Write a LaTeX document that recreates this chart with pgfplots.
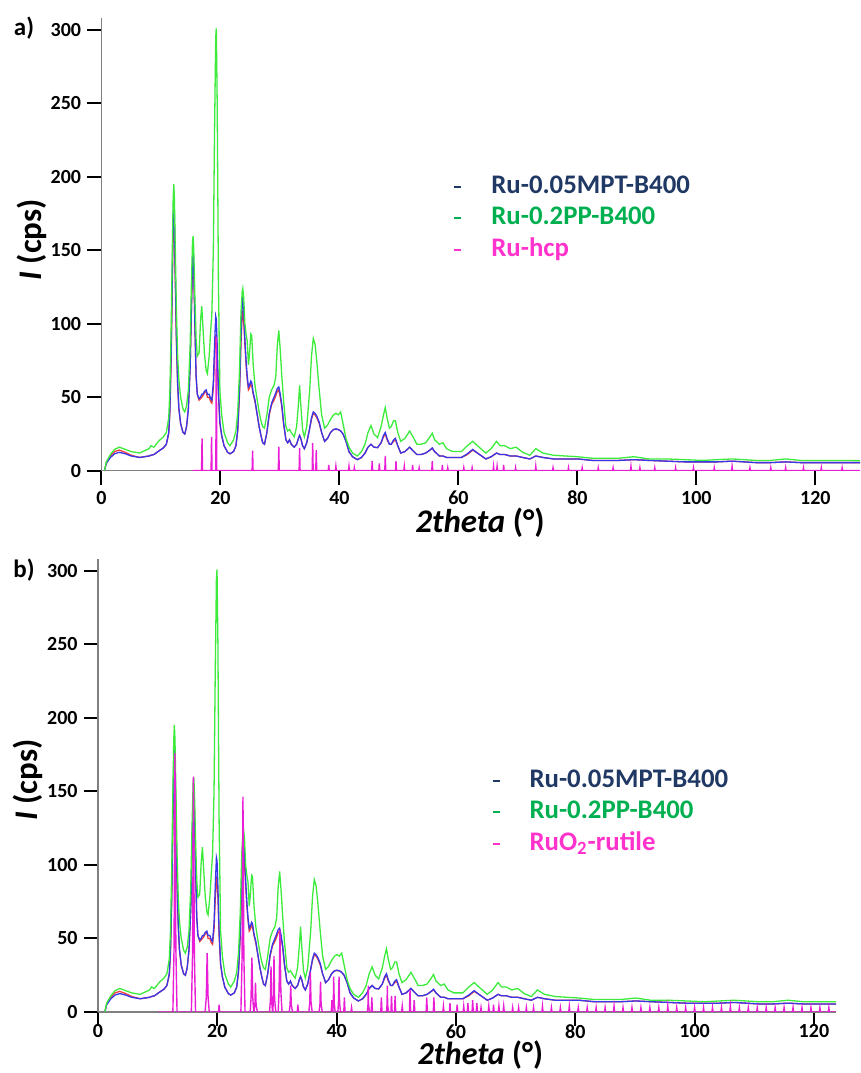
\documentclass[border=0pt]{standalone}
\usepackage{fontspec}
\setmainfont{Carlito}
\usepackage{pgfplots}
\usepackage{pgfplotstable}
\pgfplotsset{compat=1.18}

\definecolor{cblue}{RGB}{55,55,235}
\definecolor{cred}{RGB}{240,60,60}
\definecolor{cgreen}{RGB}{60,235,60}
\definecolor{cmag}{RGB}{235,30,215}
\definecolor{lnavy}{RGB}{31,56,100}
\definecolor{lgreen}{RGB}{0,176,80}
\definecolor{lmag}{RGB}{255,51,204}
\definecolor{axgray}{RGB}{128,128,128}

% sample patterns: x (panel a), xb (panel b)
\pgfplotstableread{
x xb blue red green
0.5 1.15 0 0 0
0.8 1.45 5 5 6
1.5 2.15 9 10 11
2.2 2.85 11.5 13 14.5
3.0 3.65 12.5 14 16
4.0 4.65 11.5 12.5 14.5
5.0 5.65 10 10.5 13
6.4 7.05 9 9 12
8.0 8.65 10 10 15
8.3 8.95 10.5 10.5 17
8.8 9.45 11 11 16
9.7 10.35 13.6 13.6 20.5
10.4 11.05 15.5 15.5 23
10.9 11.55 18 18 26
11.3 11.95 26 25 36
11.5 12.15 42 40 55
11.7 12.35 78 74 95
11.9 12.55 132 125 150
12.05 12.70 172 164 185
12.15 12.80 185 177 195
12.25 12.90 174 167 186
12.4 13.05 135 129 152
12.6 13.25 90 86 108
12.8 13.45 60 58 78
13.0 13.65 43 42 62
13.3 13.95 32 32 50
13.7 14.35 26 26 42
14.0 14.65 25 25 40
14.3 14.95 30 30 44
14.6 15.25 42 42 55
14.9 15.55 70 70 85
15.1 15.75 108 106 125
15.3 15.95 143 140 156
15.4 16.05 148.6 145 159.5
15.5 16.15 140 137 152
15.7 16.35 100 98 118
15.9 16.55 65 64 90
16.1 16.75 52 52 78
16.4 17.05 49 48 80
16.65 17.30 50 49 102
16.85 17.50 52 50 112
17.05 17.70 52 51 98
17.3 17.95 54 53 80
17.6 18.25 55 54 68
17.8 18.45 52 50 66
18.1 18.75 52 50 78
18.35 19.00 49 47 95
18.55 19.20 48 46 107
18.8 19.45 60 56 150
19.0 19.65 85 76 230
19.2 19.85 105 91 295
19.3 19.95 103 90 301
19.45 20.10 85 78 250
19.65 20.30 55 52 130
19.9 20.55 33 32 55
20.2 20.85 24 24 38
20.6 21.25 17 17 26
21.2 21.85 12.5 12.5 19
21.6 22.25 11.5 11.5 17
22.2 22.85 13 13 21
22.6 23.25 17 17 27
22.9 23.55 28 27 40
23.2 23.85 55 52 68
23.45 24.10 92 87 108
23.65 24.30 114 106 122
23.75 24.40 117 108 124
23.9 24.55 110 102 118
24.1 24.75 90 86 100
24.3 24.95 75 72 93
24.5 25.15 64 62 88
24.7 25.35 57 55 72
24.85 25.50 58 56 78
25.1 25.75 61 59 93
25.25 25.90 60 58 92
25.5 26.15 53 52 72
25.8 26.45 48 47 58
26.1 26.75 40 40 50
26.5 27.15 30 30 40
26.8 27.45 24 24 34
27.1 27.75 19 19 30
27.4 28.05 18 18 29
27.8 28.45 26 26 38
28.2 28.85 39 38 50
28.6 29.25 46 45 55
29.0 29.65 50 48 58
29.3 29.95 53 51 64
29.55 30.20 56 54 85
29.8 30.45 57 55 95.5
30.05 30.70 52 50 82
30.3 30.95 45 44 65
30.6 31.25 33 32 48
31.0 31.65 21 21 30
31.3 31.95 19 19 27
31.6 32.25 21 21 28
31.9 32.55 18 18 26
32.4 33.05 16 16 23
32.8 33.45 18 18 30
33.1 33.75 22 22 45
33.3 33.95 24 24 58
33.5 34.15 22 22 45
33.8 34.45 17 17 28
34.1 34.75 15 15 23
34.5 35.15 19 19 30
35.0 35.65 29 29 55
35.3 35.95 36 35 78
35.6 36.25 40 39 90
35.9 36.55 39 38 86
36.2 36.85 37 36 74
36.6 37.25 33 32 55
37.0 37.65 26 26 38
37.5 38.15 20 20 29
38.0 38.65 22 22 31
38.5 39.15 26 26 35
39.0 39.65 28 28 38
39.4 40.05 28.5 28 39
39.8 40.45 28 28 38
40.2 40.85 27 27 40
40.6 41.25 25 25 32
41.1 41.75 20 20 22
41.6 42.25 13 13 16
42.2 42.85 9.5 9.5 12
43.0 43.65 7.5 7.5 10
43.7 44.35 9 9 13
44.3 44.95 12 12 18
44.8 45.45 16 16 26
45.3 45.95 18 18 30.7
45.8 46.45 16 16 25
46.4 47.05 15.7 15.7 22.5
47.0 47.65 19 19 30
47.4 48.05 24 23 38
47.7 48.35 26 25 43
48.0 48.65 22 21 36
48.4 49.05 18 18 29
48.7 49.35 18 18 30
49.1 49.75 21 20 34
49.4 50.05 22 21 34
49.8 50.45 17 17 26
50.3 50.95 12 12 20
51.0 51.65 13 13 22
51.8 52.45 16 16 27
52.5 53.15 13 13 22
53.0 53.65 11 11 18
53.7 54.35 11 11 18
54.5 55.15 12 12 19
55.2 55.85 14 14 23
55.6 56.25 15.5 15 25.5
56.0 56.65 13 13 21
56.8 57.45 10 10 18
57.4 58.05 10 10 19
58.0 58.65 9 9 15
59.0 59.65 9 9 13
60.5 61.15 9 9 13
61.5 62.15 11.5 11 17
62.4 63.05 14.5 14 20
63.2 63.85 12 12 17
64.6 65.25 8 8 12
65.5 66.15 9.5 9.5 15
66.4 67.05 12 12 20
67.0 67.65 11 11 17
67.8 68.45 11 11 17
68.7 69.35 10 10 15
69.7 70.35 10 10 16
70.8 71.45 9 9 12.5
72.0 72.65 8 8 10.5
73.0 73.65 10 10 15
74.2 74.85 9 9 12
76.0 76.65 8 8 10.5
78.0 78.65 8 8 10
80.0 80.65 8 8 9.5
82.5 83.15 7 7 8.5
85.0 85.65 7 7 8.5
87.0 87.65 7 7 8.5
89.5 90.15 7.5 7.5 9.5
92.0 92.65 7 7 8
95.0 95.65 6.5 6.5 8
98.0 98.65 6 6 7.5
101.0 101.65 6 6 7
103.5 104.15 6 6 7.5
106.0 106.65 6.5 6.5 8
108.0 108.65 6 6 7.5
110.0 110.65 5.5 5.5 7
112.5 113.15 5.5 5.5 7
115.0 115.65 6 6 8
117.5 118.15 5.5 5.5 7
120.0 120.65 5.5 5.5 7
122.0 122.65 5.5 5.5 7
124.0 124.65 5.5 5.5 7
127.5 128.15 5.5 5.5 6.8
}\samples

% Ru-hcp reference pattern
\pgfplotstableread{
x y
15.3 0
16.82 0
16.9 22
16.98 0
18.42 0
18.5 23
18.58 0
19.22 0
19.3 91
19.38 0
25.32 0
25.4 13.6
25.48 0
29.72 0
29.8 16.4
29.88 0
33.22 0
33.3 15.5
33.38 0
35.42 0
35.5 18.7
35.58 0
36.02 0
36.1 14
36.18 0
38.12 0
38.2 4
38.28 0
39.32 0
39.4 3
39.48 0
41.52 0
41.6 3
41.68 0
42.42 0
42.5 2
42.58 0
45.42 0
45.5 6.5
45.58 0
46.62 0
46.7 5
46.78 0
47.62 0
47.7 10
47.78 0
49.42 0
49.5 6.5
49.58 0
50.82 0
50.9 3
50.98 0
52.22 0
52.3 4
52.38 0
53.32 0
53.4 2
53.48 0
55.52 0
55.6 6.5
55.68 0
57.22 0
57.3 4
57.38 0
58.12 0
58.2 2
58.28 0
60.82 0
60.9 2
60.98 0
62.22 0
62.3 2
62.38 0
65.82 0
65.9 3
65.98 0
66.42 0
66.5 3
66.58 0
67.52 0
67.6 4
67.68 0
69.52 0
69.6 2
69.68 0
72.92 0
73.0 3
73.08 0
75.82 0
75.9 2
75.98 0
78.42 0
78.5 2
78.58 0
80.72 0
80.8 2
80.88 0
83.42 0
83.5 2
83.58 0
85.92 0
86.0 2
86.08 0
88.92 0
89.0 3
89.08 0
90.42 0
90.5 2
90.58 0
92.92 0
93.0 2
93.08 0
96.42 0
96.5 2
96.58 0
99.42 0
99.5 2
99.58 0
102.92 0
103.0 2
103.08 0
105.92 0
106.0 3
106.08 0
108.92 0
109.0 2
109.08 0
112.42 0
112.5 2
112.58 0
114.92 0
115.0 2
115.08 0
117.92 0
118.0 2
118.08 0
120.92 0
121.0 2
121.08 0
124.42 0
124.5 2
124.58 0
127.5 0
}\hcp

% RuO2-rutile reference pattern
\pgfplotstableread{
x y
10.0 0
12.55 0
12.75 44
12.9 176
13.05 44
13.25 0
15.65 0
15.85 40
16.0 160
16.15 40
16.35 0
17.95 0
18.15 10
18.3 40
18.45 10
18.65 0
20.2 0
20.3 5
20.4 0
23.95 0
24.15 37
24.3 146.5
24.45 37
24.65 0
25.5 0
25.65 9
25.8 37
25.95 9
26.1 0
26.15 0
26.3 5
26.4 20
26.5 5
26.7 0
28.75 0
28.9 8
29.0 31
29.1 8
29.25 0
29.3 0
29.4 9
29.5 38
29.6 9
29.8 0
30.2 0
30.35 14
30.5 56
30.65 14
30.85 0
32.05 0
32.2 5
32.3 18
32.4 5
32.6 0
33.4 0
33.5 5
33.6 0
35.35 0
35.5 7
35.6 27
35.7 7
35.9 0
37.05 0
37.2 5
37.3 20.6
37.4 5
37.6 0
39.1 0
39.2 8
39.3 0
39.35 0
39.45 6
39.5 24
39.6 6
39.75 0
40.2 0
40.3 6
40.4 24
40.5 6
40.65 0
41.2 0
41.3 10
41.4 0
42.4 0
42.5 3
42.6 0
45.15 0
45.25 5
45.3 18
45.35 5
45.5 0
45.8 0
45.9 10
46.0 0
47.4 0
47.5 10
47.6 0
48.35 0
48.45 5
48.5 18
48.55 5
48.7 0
49.1 0
49.2 11
49.3 0
49.7 0
49.8 11
49.9 0
50.9 0
51.0 4
51.1 0
52.2 0
52.3 15
52.4 0
52.9 0
53.0 8
53.1 0
55.0 0
55.1 10
55.2 0
56.2 0
56.3 10
56.4 0
57.8 0
57.9 4
58.0 0
58.9 0
59.0 6
59.1 0
60.1 0
60.2 5
60.3 0
61.2 0
61.3 4
61.4 0
61.9 0
62.0 6
62.1 0
62.7 0
62.8 8
62.9 0
63.4 0
63.5 6
63.6 0
64.1 0
64.2 3
64.3 0
65.4 0
65.5 4
65.6 0
66.2 0
66.3 5
66.4 0
67.1 0
67.2 4
67.3 0
67.9 0
68.0 4
68.1 0
69.4 0
69.5 3
69.6 0
70.4 0
70.5 3
70.6 0
71.7 0
71.8 3
71.9 0
72.9 0
73.0 3
73.1 0
74.4 0
74.5 4
74.6 0
75.9 0
76.0 3
76.1 0
77.4 0
77.5 3
77.6 0
78.9 0
79.0 4
79.1 0
80.4 0
80.5 3
80.6 0
81.9 0
82.0 3
82.1 0
83.4 0
83.5 3
83.6 0
84.9 0
85.0 3
85.1 0
86.4 0
86.5 4
86.6 0
87.9 0
88.0 3
88.1 0
89.4 0
89.5 3
89.6 0
90.9 0
91.0 3
91.1 0
92.4 0
92.5 3
92.6 0
93.9 0
94.0 3
94.1 0
95.4 0
95.5 4
95.6 0
96.9 0
97.0 3
97.1 0
98.4 0
98.5 3
98.6 0
99.9 0
100.0 3
100.1 0
101.4 0
101.5 3
101.6 0
102.9 0
103.0 3
103.1 0
104.4 0
104.5 3
104.6 0
105.9 0
106.0 4
106.1 0
107.4 0
107.5 3
107.6 0
108.9 0
109.0 3
109.1 0
110.4 0
110.5 3
110.6 0
111.9 0
112.0 3
112.1 0
113.4 0
113.5 3
113.6 0
114.9 0
115.0 3
115.1 0
116.4 0
116.5 3
116.6 0
117.9 0
118.0 3
118.1 0
119.4 0
119.5 3
119.6 0
120.9 0
121.0 3
121.1 0
122.4 0
122.5 3
122.6 0
124.0 0
}\rutile

\pgfplotsset{
  xrdaxis/.style={
    scale only axis,
    axis lines*=left,
    axis line style={draw=axgray, line width=0.6pt},
    tick align=outside,
    major tick length=7pt,
    every tick/.style={black, line width=1pt},
    ymin=0, ymax=308,
    ytick={0,50,...,300},
    xtick={0,20,...,120},
    /pgf/number format/assume math mode=true,
    ticklabel style={font=\bfseries\fontsize{10}{12}\selectfont, inner sep=1pt},
    yticklabel style={xshift=-2pt},
    label style={font=\bfseries\fontsize{16.5}{19}\selectfont, inner sep=0pt},
    legend cell align=left,
    legend style={draw=none, fill=none, font=\bfseries\fontsize{13.4}{16}\selectfont,
      nodes={inner sep=1pt, text height=9pt, text depth=2.5pt},
      row sep=2.25pt, /tikz/column sep=4.5pt},
    legend image code/.code={\draw[#1, line width=1pt] (0pt,0pt) -- (3.5pt,0pt); \path[draw=none] (0pt,0pt) -- (13pt,0pt);},
  },
  curve/.style={line width=0.65pt, forget plot},
}

\begin{document}
\begin{tikzpicture}
\path[use as bounding box] (0,0) rectangle (430.5pt,536.5pt);

% ---------------- panel a ----------------
\begin{axis}[xrdaxis,
  at={(50.75pt,301.15pt)}, anchor=south west,
  width=379.25pt, height=226.35pt,
  xmin=0, xmax=127.5,
  xticklabel style={yshift=-2pt},
  xlabel={{\itshape 2theta} (°)},
  ylabel={{\itshape I} (cps)},
  xlabel style={at={(axis description cs:0.499,-0.1155)}, anchor=center},
  ylabel style={at={(axis description cs:-0.0916,0.51)}, anchor=center},
  legend style={at={(axis description cs:0.4554,0.6666)}, anchor=north west},
]
\addplot[cred, curve] table[x=x, y=red] {\samples};
\addplot[cblue, curve] table[x=x, y=blue] {\samples};
\addplot[cgreen, curve] table[x=x, y=green] {\samples};
\addplot[cmag, line width=0.7pt, forget plot] table[x=x, y=y] {\hcp};
\addlegendimage{lnavy}
\addlegendentry{\textcolor{lnavy}{Ru-0.05MPT-B400}}
\addlegendimage{lgreen}
\addlegendentry{\textcolor{lgreen}{Ru-0.2PP-B400}}
\addlegendimage{lmag}
\addlegendentry{\textcolor{lmag}{Ru-hcp}}
\end{axis}

% ---------------- panel b ----------------
\begin{axis}[xrdaxis,
  at={(49pt,30.5pt)}, anchor=south west,
  width=369pt, height=226.5pt,
  xmin=0, xmax=123.7,
  xticklabel style={yshift=1pt, inner sep=0pt},
  xlabel={{\itshape 2theta} (°)},
  ylabel={{\itshape I} (cps)},
  xlabel style={at={(axis description cs:0.518,-0.1148)}, anchor=base, text depth=0pt, font=\bfseries\fontsize{16}{19}\selectfont},
  ylabel style={at={(axis description cs:-0.095,0.512)}, anchor=center},
  legend style={at={(axis description cs:0.5246,0.550)}, anchor=north west},
]
\addplot[cred, curve] table[x=xb, y=red] {\samples};
\addplot[cblue, curve] table[x=xb, y=blue] {\samples};
\addplot[cgreen, curve] table[x=xb, y=green] {\samples};
\addplot[cmag, line width=0.7pt, forget plot] table[x=x, y=y] {\rutile};
\addlegendimage{lnavy}
\addlegendentry{\textcolor{lnavy}{Ru-0.05MPT-B400}}
\addlegendimage{lgreen}
\addlegendentry{\textcolor{lgreen}{Ru-0.2PP-B400}}
\addlegendimage{lmag}
\addlegendentry{\textcolor{lmag}{RuO\textsubscript{2}-rutile}}
\end{axis}

\node[font=\bfseries\fontsize{12.5}{15}\selectfont] at (12pt,522.5pt) {a)};
\node[font=\bfseries\fontsize{12.5}{15}\selectfont] at (12pt,251.5pt) {b)};
\end{tikzpicture}
\end{document}
